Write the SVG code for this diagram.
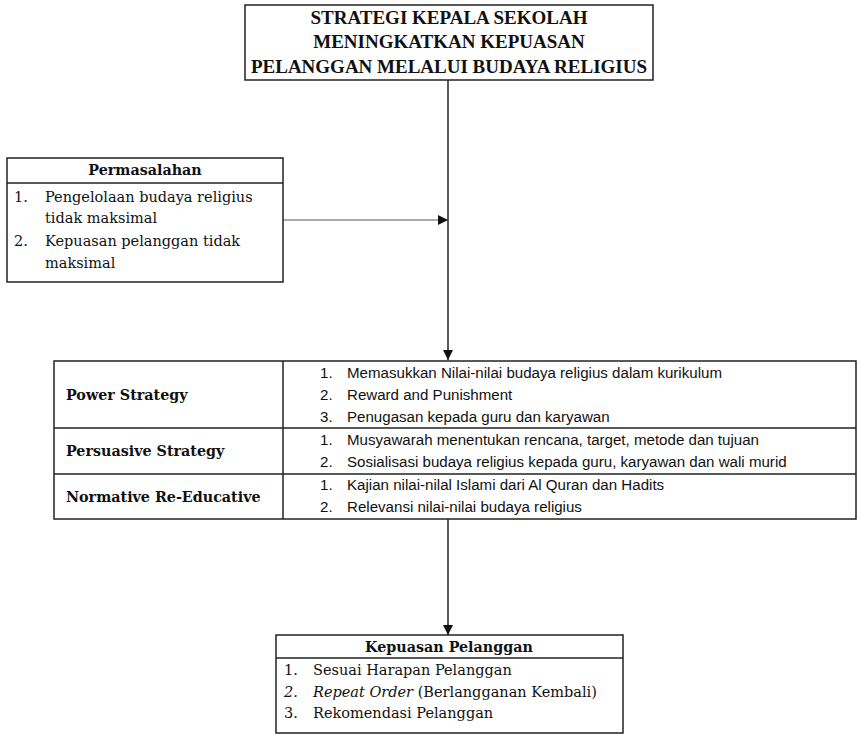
<svg xmlns="http://www.w3.org/2000/svg" width="857" height="735" viewBox="0 0 857 735">
<defs>
<style>
.box{fill:#fff;stroke:#222;stroke-width:1.5}
.ln{stroke:#222;stroke-width:1.5;fill:none}
.thin{stroke:#555;stroke-width:1;fill:none}
.t{font-family:"DejaVu Serif","Liberation Serif",serif;font-size:14.5px;fill:#111}
.tb{font-family:"DejaVu Serif","Liberation Serif",serif;font-size:14.3px;font-weight:bold;fill:#111}
.th{font-family:"Liberation Serif","Times New Roman",serif;font-size:19px;font-weight:bold;fill:#111}
.s{font-family:"Liberation Sans",Arial,sans-serif;font-size:15.1px;fill:#111}
</style>
<marker id="ah" viewBox="0 0 10 10" refX="10" refY="5" markerWidth="10" markerHeight="10" markerUnits="userSpaceOnUse" orient="auto">
<path d="M0,0 L10,5 L0,10 z" fill="#111"/>
</marker>
</defs>
<g id="connectors">
<line class="ln" x1="448" y1="80" x2="448" y2="360" marker-end="url(#ah)"/>
<line class="thin" x1="283" y1="220" x2="448" y2="220" marker-end="url(#ah)"/>
<line class="ln" x1="448" y1="519" x2="448" y2="635" marker-end="url(#ah)"/>
</g>
<g id="title">
<rect class="box" x="245" y="5" width="408" height="75"/>
<text class="th" x="449" y="24" text-anchor="middle">STRATEGI KEPALA SEKOLAH</text>
<text class="th" x="449" y="48" text-anchor="middle">MENINGKATKAN KEPUASAN</text>
<text class="th" x="449" y="73" text-anchor="middle">PELANGGAN MELALUI BUDAYA RELIGIUS</text>
</g>
<g id="permasalahan">
<rect class="box" x="7" y="158" width="276" height="124"/>
<line class="ln" x1="7" y1="183" x2="283" y2="183"/>
<text class="tb" x="145" y="175" text-anchor="middle">Permasalahan</text>
<text class="t" x="14" y="202">1.</text>
<text class="t" x="45" y="202">Pengelolaan budaya religius</text>
<text class="t" x="45" y="223">tidak maksimal</text>
<text class="t" x="14" y="246">2.</text>
<text class="t" x="45" y="246">Kepuasan pelanggan tidak</text>
<text class="t" x="45" y="268">maksimal</text>
</g>
<g id="strategi">
<rect class="box" x="54" y="361" width="802" height="158"/>
<line class="ln" x1="283" y1="361" x2="283" y2="519"/>
<line class="ln" x1="54" y1="428" x2="856" y2="428"/>
<line class="ln" x1="54" y1="474" x2="856" y2="474"/>
<text class="tb" x="66" y="400">Power Strategy</text>
<text class="tb" x="66" y="456">Persuasive Strategy</text>
<text class="tb" x="66" y="502">Normative Re-Educative</text>
<text class="s" x="320" y="378">1.</text>
<text class="s" x="347" y="378">Memasukkan Nilai-nilai budaya religius dalam kurikulum</text>
<text class="s" x="320" y="400">2.</text>
<text class="s" x="347" y="400">Reward and Punishment</text>
<text class="s" x="320" y="422">3.</text>
<text class="s" x="347" y="422">Penugasan kepada guru dan karyawan</text>
<text class="s" x="320" y="445">1.</text>
<text class="s" x="347" y="445">Musyawarah menentukan rencana, target, metode dan tujuan</text>
<text class="s" x="320" y="467">2.</text>
<text class="s" x="347" y="467">Sosialisasi budaya religius kepada guru, karyawan dan wali murid</text>
<text class="s" x="320" y="490">1.</text>
<text class="s" x="347" y="490">Kajian nilai-nilal Islami dari Al Quran dan Hadits</text>
<text class="s" x="320" y="512">2.</text>
<text class="s" x="347" y="512">Relevansi nilai-nilai budaya religius</text>
</g>
<g id="kepuasan">
<rect class="box" x="276" y="635" width="347" height="98"/>
<line class="ln" x1="276" y1="658" x2="623" y2="658"/>
<text class="tb" x="449" y="652" text-anchor="middle">Kepuasan Pelanggan</text>
<text class="t" x="284" y="675">1.</text>
<text class="t" x="313" y="675">Sesuai Harapan Pelanggan</text>
<text class="t" x="284" y="697" font-style="italic">2.</text>
<text class="t" x="313" y="697"><tspan font-style="italic">Repeat Order</tspan> (Berlangganan Kembali)</text>
<text class="t" x="284" y="718">3.</text>
<text class="t" x="313" y="718">Rekomendasi Pelanggan</text>
</g>
</svg>
